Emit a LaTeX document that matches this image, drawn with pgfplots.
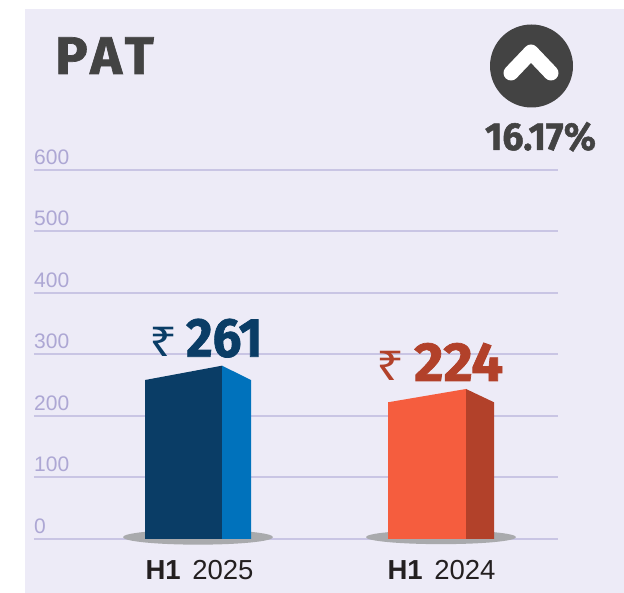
\documentclass[border=0pt]{standalone}
\usepackage{fontspec}
\setmainfont{Liberation Sans}
\newfontfamily\headfont[BoldFeatures={FakeBold=1.3}]{Fira Sans}
\newfontfamily\rupeefont{Noto Sans}
\usepackage{pgfplots}
\pgfplotsset{compat=1.18}
\definecolor{panel}{HTML}{EDEBF7}
\definecolor{gridc}{HTML}{C9C5E4}
\definecolor{tickc}{HTML}{ADA7D4}
\definecolor{darkc}{HTML}{434343}
\definecolor{navyfront}{HTML}{0A3D66}
\definecolor{navyside}{HTML}{0072BC}
\definecolor{redfront}{HTML}{F55D3E}
\definecolor{redside}{HTML}{B2412A}
\definecolor{shadow}{HTML}{A9AAAD}
\definecolor{labelc}{HTML}{231F20}
\newcommand{\fs}[1]{\fontsize{#1}{#1}\selectfont}
\begin{document}
\begin{tikzpicture}[x=1pt,y=1pt]
% page is 624 x 593, y measured from the bottom
\fill[white] (0,0) rectangle (624,593);
\fill[panel] (25,0) rectangle (624,584);
\begin{axis}[
  at={(34pt,54pt)}, anchor=south west,
  scale only axis, width=524pt, height=369pt,
  xmin=34, xmax=558, ymin=0, ymax=600,
  axis line style={draw=none},
  major tick length=0pt,
  ytick={0,100,...,600},
  ymajorgrids, grid style={line width=2pt,draw=gridc},
  /pgf/number format/assume math mode=true,
  yticklabel style={font=\fs{21}, text=tickc, anchor=south west, inner sep=0pt, xshift=0pt, yshift=5.5pt},
  xtick={199.5,441.5},
  xticklabels={{\textbf{H1}\hspace{4pt} 2025},{\textbf{H1}\hspace{4pt} 2024}},
  xticklabel style={font=\fs{27.5}, text=labelc, inner sep=0pt, anchor=base, yshift=-41pt},
  clip=false,
]
% shadows under the bars
\fill[shadow] (axis cs:198,3) ellipse [x radius=75pt, y radius=7.5pt];
\fill[shadow] (axis cs:441,3) ellipse [x radius=75pt, y radius=7pt];
% H1 2025
\addplot[fill=navyfront, draw=none] coordinates {(145,0)(145,258.5)(222,281.8)(222,0)} --cycle;
\addplot[fill=navyside, draw=none] coordinates {(222,0)(222,281.8)(251,258.5)(251,0)} --cycle;
% H1 2024
\addplot[fill=redfront, draw=none] coordinates {(388,0)(388,222.3)(466,243.9)(466,0)} --cycle;
\addplot[fill=redside, draw=none] coordinates {(466,0)(466,243.9)(494,222.3)(494,0)} --cycle;
\node[anchor=base west, inner sep=0pt, text=navyfront, font=\rupeefont\fs{41}, xscale=1.2] at (axis cs:149,296.4) {₹};
\node[anchor=base west, inner sep=0pt, text=navyfront, font=\headfont\bfseries\fs{55}, xscale=0.93] at (axis cs:186,296.4) {261};
\node[anchor=base west, inner sep=0pt, text=redside, font=\rupeefont\fs{41}, xscale=1.2] at (axis cs:376,257) {₹};
\node[anchor=base west, inner sep=0pt, text=redside, font=\headfont\bfseries\fs{55}, xscale=1.03] at (axis cs:414,257) {224};
\end{axis}
\node[anchor=base west, inner sep=0pt, text=darkc, font=\headfont\bfseries\fs{53}, xscale=1.02] at (55,519) {P\kern2.5pt A\kern2.5pt T};
\fill[darkc] (531.5,527) circle (41.5);
\draw[white, line width=15pt, line cap=round, line join=round] (511,520) -- (531,541) -- (551,520);
\node[anchor=base, inner sep=0pt, text=darkc, font=\headfont\bfseries\fs{39}, xscale=0.96] at (540.5,443) {16.17\%};
\end{tikzpicture}
\end{document}
